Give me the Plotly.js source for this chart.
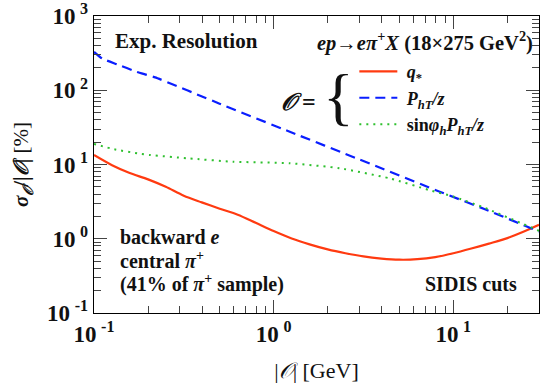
<!DOCTYPE html>
<html>
<head>
<meta charset="utf-8">
<script src="https://cdn.plot.ly/plotly-3.0.1.min.js"></script>
<style>html,body{margin:0;padding:0;background:#fff;}#chart{width:541px;height:385px;}</style>
</head>
<body>
<div id="chart"></div>
<script>
// q* (red solid)
const xQ = [0.1, 0.126, 0.158, 0.2, 0.251, 0.316, 0.398, 0.501, 0.631, 0.794, 1, 1.26, 1.585, 2.0, 2.51, 3.16, 3.98, 5.01, 6.31, 7.94, 10, 12.6, 15.8, 20, 25.1, 30];
const yQ = [13.4, 9.77, 7.67, 6.31, 5.01, 3.80, 3.09, 2.54, 2.11, 1.64, 1.27, 1.01, 0.841, 0.719, 0.638, 0.578, 0.541, 0.522, 0.530, 0.566, 0.638, 0.738, 0.861, 1.02, 1.27, 1.54];
// P_hT/z (blue dashed)
const xP = [0.1, 0.111, 0.134, 0.173, 0.219, 0.5, 1.23, 3, 8.4, 15, 30];
const yP = [328, 267, 224, 177, 149, 66, 27.6, 11.7, 4.3, 2.5, 1.25];
// sin(phi_h) P_hT/z (green dotted)
const xS = [0.1, 0.13, 0.176, 0.206, 0.334, 0.594, 1.23, 2.33, 4.43, 7.4, 10, 15, 30];
const yS = [18.9, 16, 14.1, 13.4, 12.1, 10.9, 10.4, 8.9, 6.5, 4.5, 3.7, 2.6, 1.28];

const xTickVals = [0.1, 1, 10];
const xTickText = ['<b>10&#8201;<sup>-1</sup></b>', '<b>10&#8201;<sup>0</sup></b>', '<b>10&#8201;<sup>1</sup></b>'];
const yTickVals = [0.1, 1, 10, 100, 1000];
const yTickText = ['<b>10&#8201;<sup>-1</sup></b>', '<b>10&#8201;<sup>0</sup></b>', '<b>10&#8201;<sup>1</sup></b>', '<b>10&#8201;<sup>2</sup></b>', '<b>10&#8201;<sup>3</sup></b>'];

const serif = 'Liberation Serif';

const traces = [
  {x: xQ, y: yQ, mode: 'lines', line: {color: '#ff3a10', width: 2.2, shape: 'spline', smoothing: 0.8},
   name: '<b>&nbsp;<i>q</i><sub>*</sub></b>'},
  {x: xP, y: yP, mode: 'lines', line: {color: '#0a1eff', width: 2.2, dash: '10px,6px', shape: 'spline', smoothing: 0.4},
   name: '<b>&nbsp;<i>P</i><sub><i>hT</i></sub><i>/z</i></b>'},
  {x: xS, y: yS, mode: 'lines', line: {color: '#2ec02e', width: 2, dash: '2px,5px', shape: 'spline', smoothing: 0.5},
   name: '<b>&nbsp;sin<i>φ</i><sub><i>h</i></sub><i>P</i><sub><i>hT</i></sub><i>/z</i></b>'}
];

const axisCommon = {
  type: 'log', showgrid: false, zeroline: false, showline: true, linecolor: '#000', linewidth: 1.3,
  mirror: 'allticks', ticks: 'inside', ticklen: 13, tickwidth: 1.3, tickcolor: '#444',
  ticklabeloverflow: 'allow',
  tickfont: {family: serif, size: 23, color: '#111'},
  minor: {ticks: 'inside', ticklen: 7, tickwidth: 1, tickcolor: '#444', dtick: 'D1', showgrid: false}
};

const layout = {
  width: 541, height: 385,
  margin: {l: 94, r: 2, t: 16, b: 72},
  paper_bgcolor: '#fff', plot_bgcolor: '#fff',
  showlegend: true,
  legend: {x: 0.585, y: 0.875, xanchor: 'left', yanchor: 'top', bgcolor: 'rgba(0,0,0,0)',
           font: {family: serif, size: 18, color: '#111'}, tracegroupgap: 0, itemwidth: 38},
  xaxis: Object.assign({}, axisCommon, {
    range: [-1, Math.log10(30)], tickmode: 'array', tickvals: xTickVals, ticktext: xTickText,
    title: {text: '|<i>𝒪</i>| [GeV]', font: {family: serif, size: 22, color: '#111'}, standoff: 16}
  }),
  yaxis: Object.assign({}, axisCommon, {
    range: [-1, 3], tickmode: 'array', tickvals: yTickVals, ticktext: yTickText,
    title: {text: '<b><i>σ</i><sub><i>𝒪</i></sub>/|<i>𝒪</i>|</b> [%]', font: {family: serif, size: 21, color: '#111'}, standoff: 12}
  }),
  annotations: [
    {xref: 'paper', yref: 'paper', x: 0.043, y: 0.915, xanchor: 'left', yanchor: 'middle', showarrow: false,
     text: '<b>Exp. Resolution</b>', font: {family: serif, size: 21, color: '#111'}},
    {xref: 'paper', yref: 'paper', x: 0.99, y: 0.915, xanchor: 'right', yanchor: 'middle', showarrow: false,
     text: '<b><i>ep</i>→<i>eπ</i><sup>+</sup><i>X</i> (18×275 GeV<sup>2</sup>)</b>', font: {family: serif, size: 20.5, color: '#111'}},
    {xref: 'paper', yref: 'paper', x: 0.503, y: 0.71, xanchor: 'right', yanchor: 'middle', showarrow: false,
     text: '<b><i>𝒪</i> =</b>', font: {family: serif, size: 24, color: '#111'}},
    {xref: 'paper', yref: 'paper', x: 0.51, y: 0.73, xanchor: 'left', yanchor: 'middle', showarrow: false,
     text: '{', font: {family: serif, size: 64, color: '#111'}},
    {xref: 'paper', yref: 'paper', x: 0.053, y: 0.255, xanchor: 'left', yanchor: 'middle', showarrow: false,
     text: '<b>backward <i>e</i></b>', font: {family: serif, size: 20, color: '#111'}},
    {xref: 'paper', yref: 'paper', x: 0.053, y: 0.178, xanchor: 'left', yanchor: 'middle', showarrow: false,
     text: '<b>central <i>π</i><sup>+</sup></b>', font: {family: serif, size: 20, color: '#111'}},
    {xref: 'paper', yref: 'paper', x: 0.053, y: 0.098, xanchor: 'left', yanchor: 'middle', showarrow: false,
     text: '<b>(41% of <i>π</i><sup>+</sup> sample)</b>', font: {family: serif, size: 20, color: '#111'}},
    {xref: 'paper', yref: 'paper', x: 0.955, y: 0.098, xanchor: 'right', yanchor: 'middle', showarrow: false,
     text: '<b>SIDIS cuts</b>', font: {family: serif, size: 20, color: '#111'}}
  ]
};

Plotly.newPlot('chart', traces, layout, {displayModeBar: false, staticPlot: true});
</script>
</body>
</html>
